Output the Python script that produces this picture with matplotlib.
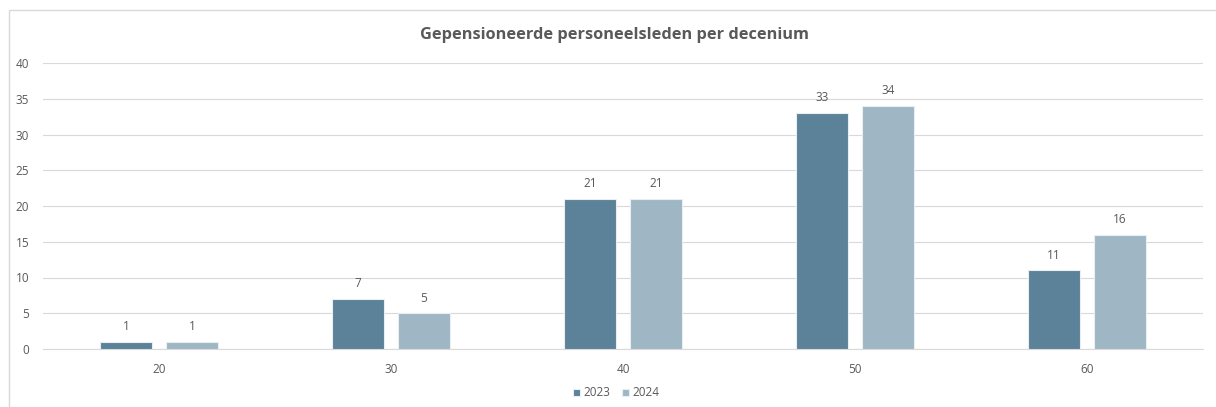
import matplotlib.pyplot as plt
from matplotlib.patches import Rectangle
import numpy as np

plt.rcParams["font.family"] = ["Open Sans", "DejaVu Sans"]

decades = ["20", "30", "40", "50", "60"]
values_2023 = [1, 7, 21, 33, 11]
values_2024 = [1, 5, 21, 34, 16]
series_labels = ["2023", "2024"]
colors = ["#5B8299", "#9FB6C5"]
text_color = "#595959"

fig = plt.figure(figsize=(12.16, 4.07), dpi=100)
ax = fig.add_axes([43 / 1216, 1 - 349 / 407, 1160 / 1216, 286 / 407])

x = np.arange(len(decades))
width = 0.224
offset = 0.142

for vals, off, col, lab in [(values_2023, -offset, colors[0], series_labels[0]),
                            (values_2024, offset, colors[1], series_labels[1])]:
    bars = ax.bar(x + off, vals, width, color=col, edgecolor="#E8EEF2",
                  linewidth=0.8, label=lab, zorder=3)
    for b, v in zip(bars, vals):
        ax.text(b.get_x() + b.get_width() / 2, v + 1.2, str(v),
                ha="center", va="bottom", fontsize=8.5, color=text_color)

ax.set_xlim(-0.5, len(decades) - 0.5)
ax.set_ylim(0, 40)
ax.set_yticks(range(0, 41, 5))
ax.set_xticks(x)
ax.set_xticklabels(decades)
ax.grid(axis="y", color="#D9D9D9", linewidth=0.8, zorder=0)
for s in ["top", "right", "left"]:
    ax.spines[s].set_visible(False)
ax.spines["bottom"].set_color("#D9D9D9")
ax.tick_params(axis="both", length=0, colors=text_color, labelsize=8.5)
ax.tick_params(axis="y", pad=10)
ax.tick_params(axis="x", pad=10)

fig.text(614 / 1216, 1 - 35 / 407, "Gepensioneerde personeelsleden per decenium",
         ha="center", va="center", fontsize=11.8, fontweight="bold", color=text_color)

fig.legend(loc="center", bbox_to_anchor=(616 / 1216, 1 - 393 / 407), ncol=2,
           frameon=False, fontsize=8.5, handlelength=0.6, handleheight=0.6,
           columnspacing=1.0, handletextpad=0.3, labelcolor=text_color)

fig.patches.append(Rectangle((9 / 1216, -0.1), 1.2, 1 - 10 / 407 + 0.1,
                             transform=fig.transFigure, fill=False,
                             edgecolor="#D9D9D9", linewidth=1))

fig.savefig("out.png", dpi=100)
